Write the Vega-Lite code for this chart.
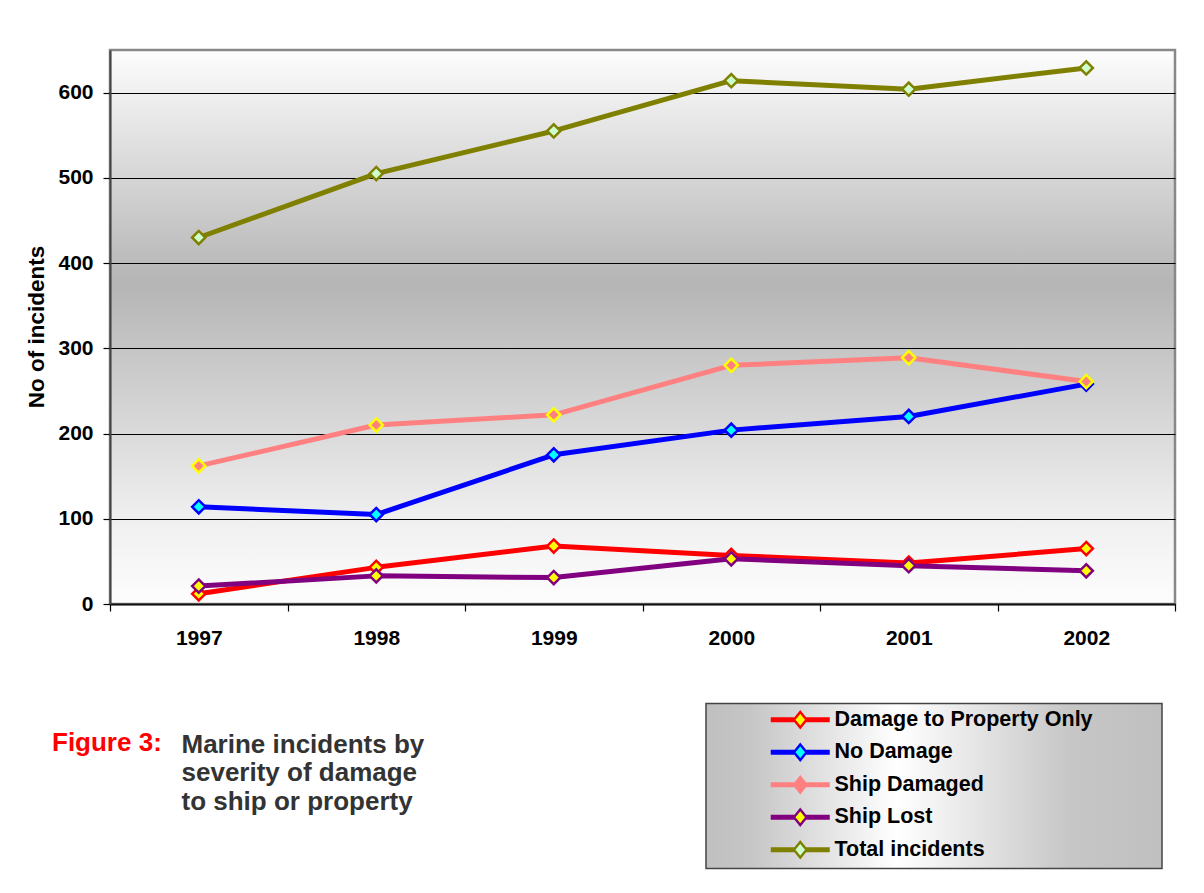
{
  "$schema": "https://vega.github.io/schema/vega-lite/v6.json",
  "width": 1065,
  "height": 554,
  "autosize": {"type": "none"},
  "padding": {"left": 110, "top": 50, "right": 29, "bottom": 289},
  "background": "#ffffff",
  "config": {
    "font": "Liberation Sans",
    "view": {
      "stroke": "#888888",
      "strokeWidth": 2.5,
      "fill": {
        "gradient": "linear",
        "x1": 0, "y1": 0, "x2": 0, "y2": 1,
        "stops": [
          {"offset": 0, "color": "#fdfdfd"},
          {"offset": 0.42, "color": "#b5b5b5"},
          {"offset": 0.85, "color": "#f0f0f0"},
          {"offset": 1, "color": "#fdfdfd"}
        ]
      }
    }
  },
  "title": {
    "text": "Figure 3:",
    "orient": "bottom",
    "anchor": "start",
    "frame": "group",
    "baseline": "top",
    "color": "#ff0000",
    "font": "Liberation Sans",
    "fontSize": 26,
    "fontWeight": "bold",
    "dx": -58,
    "offset": -139
  },
  "data": {
    "values": [
      {"year": "1997", "series": "Damage to Property Only", "incidents": 12},
      {"year": "1998", "series": "Damage to Property Only", "incidents": 43},
      {"year": "1999", "series": "Damage to Property Only", "incidents": 68},
      {"year": "2000", "series": "Damage to Property Only", "incidents": 57},
      {"year": "2001", "series": "Damage to Property Only", "incidents": 48},
      {"year": "2002", "series": "Damage to Property Only", "incidents": 65},
      {"year": "1997", "series": "No Damage", "incidents": 114},
      {"year": "1998", "series": "No Damage", "incidents": 105},
      {"year": "1999", "series": "No Damage", "incidents": 175},
      {"year": "2000", "series": "No Damage", "incidents": 204},
      {"year": "2001", "series": "No Damage", "incidents": 220},
      {"year": "2002", "series": "No Damage", "incidents": 258},
      {"year": "1997", "series": "Ship Damaged", "incidents": 162},
      {"year": "1998", "series": "Ship Damaged", "incidents": 210},
      {"year": "1999", "series": "Ship Damaged", "incidents": 222},
      {"year": "2000", "series": "Ship Damaged", "incidents": 280},
      {"year": "2001", "series": "Ship Damaged", "incidents": 289},
      {"year": "2002", "series": "Ship Damaged", "incidents": 261},
      {"year": "1997", "series": "Ship Lost", "incidents": 21},
      {"year": "1998", "series": "Ship Lost", "incidents": 33},
      {"year": "1999", "series": "Ship Lost", "incidents": 31},
      {"year": "2000", "series": "Ship Lost", "incidents": 53},
      {"year": "2001", "series": "Ship Lost", "incidents": 45},
      {"year": "2002", "series": "Ship Lost", "incidents": 39},
      {"year": "1997", "series": "Total incidents", "incidents": 430},
      {"year": "1998", "series": "Total incidents", "incidents": 505},
      {"year": "1999", "series": "Total incidents", "incidents": 555},
      {"year": "2000", "series": "Total incidents", "incidents": 614},
      {"year": "2001", "series": "Total incidents", "incidents": 604},
      {"year": "2002", "series": "Total incidents", "incidents": 629}
    ]
  },
  "encoding": {
    "x": {
      "field": "year",
      "type": "ordinal",
      "scale": {"type": "band", "paddingInner": 0, "paddingOuter": 0},
      "axis": {
        "title": ["Marine incidents by", "severity of damage", "to ship or property"],
        "titleX": 71,
        "titleY": 127,
        "titleAlign": "left",
        "titleBaseline": "top",
        "titleAngle": 0,
        "titleFont": "Liberation Sans",
        "titleFontSize": 26,
        "titleFontWeight": "bold",
        "titleColor": "#333333",
        "titleLineHeight": 28.5,
        "labelAngle": 0,
        "labelFont": "Liberation Sans",
        "labelFontSize": 21,
        "labelFontWeight": "bold",
        "labelColor": "#000000",
        "labelPadding": 16,
        "tickBand": "extent",
        "tickSize": 7,
        "tickColor": "#000000",
        "tickWidth": 1.2,
        "domainColor": "#111111",
        "domainWidth": 2,
        "grid": false
      }
    },
    "y": {
      "field": "incidents",
      "type": "quantitative",
      "scale": {"domain": [0, 650], "nice": false, "zero": true},
      "axis": {
        "title": "No of incidents",
        "values": [0, 100, 200, 300, 400, 500, 600],
        "titleX": -66.5,
        "titleY": 276.5,
        "titleAngle": 270,
        "titleAlign": "center",
        "titleBaseline": "alphabetic",
        "titleFont": "Liberation Sans",
        "titleFontSize": 22.5,
        "titleFontWeight": "bold",
        "titleColor": "#000000",
        "labelFont": "Liberation Sans",
        "labelFontSize": 21,
        "labelFontWeight": "bold",
        "labelColor": "#000000",
        "labelPadding": 10,
        "tickSize": 7,
        "tickColor": "#000000",
        "tickWidth": 1.2,
        "domainColor": "#444444",
        "domainWidth": 2,
        "grid": true,
        "gridColor": "#000000",
        "gridWidth": 1.1,
        "gridOpacity": 1
      }
    }
  },
  "layer": [
    {
      "mark": {"type": "line", "strokeWidth": 5, "strokeJoin": "round"},
      "encoding": {
        "stroke": {
          "field": "series",
          "type": "nominal",
          "scale": {
            "domain": ["Damage to Property Only", "No Damage", "Ship Damaged", "Ship Lost", "Total incidents"],
            "range": ["#ff0000", "#0000ff", "#ff8080", "#800080", "#808000"]
          },
          "legend": {
            "orient": "none",
            "legendX": 596,
            "legendY": 653.5,
            "direction": "vertical",
            "title": "\u00a0",
            "titleOrient": "right",
            "titlePadding": 64,
            "titleFontSize": 4,
            "symbolType": "M-5.9,-0.24H-1.2M1.2,-0.24H5.9M-5.9,0.24H-1.2M1.2,0.24H5.9M0,-1.56L1.26,0L0,1.56L-1.26,0Z",
            "symbolSize": 100,
            "symbolStrokeWidth": 2.4,
            "symbolOpacity": 1,
            "symbolFillColor": {"expr": "datum.value === 'No Damage' ? '#00ffff' : datum.value === 'Ship Damaged' ? '#ff8080' : datum.value === 'Total incidents' ? '#ccffcc' : '#ffff00'"},
            "symbolOffset": 78,
            "labelOffset": 23.5,
            "labelFont": "Liberation Sans",
            "labelFontSize": 21.5,
            "labelFontWeight": "bold",
            "labelColor": "#000000",
            "labelLimit": 400,
            "rowPadding": 6.5,
            "padding": 5.5,
            "fillColor": "#e0e0e0",
            "strokeColor": "#444444",
            "encode": {
              "legend": {
                "update": {
                  "fill": {"value": {
                    "gradient": "linear",
                    "x1": 0, "y1": 0, "x2": 1, "y2": 0,
                    "stops": [
                      {"offset": 0, "color": "#c0c0c0"},
                      {"offset": 0.1, "color": "#c6c6c6"},
                      {"offset": 0.42, "color": "#ffffff"},
                      {"offset": 0.8, "color": "#c6c6c6"},
                      {"offset": 1, "color": "#c0c0c0"}
                    ]
                  }},
                  "stroke": {"value": "#444444"},
                  "strokeWidth": {"value": 1.5}
                }
              }
            }
          }
        }
      }
    },
    {
      "mark": {"type": "point", "shape": "diamond", "size": 175, "filled": true, "strokeWidth": 2.5, "opacity": 1},
      "encoding": {
        "fill": {
          "field": "series",
          "type": "nominal",
          "scale": {
            "domain": ["Damage to Property Only", "No Damage", "Ship Damaged", "Ship Lost", "Total incidents"],
            "range": ["#ffff00", "#00ffff", "#ff8080", "#ffff00", "#ccffcc"]
          },
          "legend": null
        },
        "stroke": {
          "field": "series",
          "type": "nominal",
          "scale": {
            "domain": ["Damage to Property Only", "No Damage", "Ship Damaged", "Ship Lost", "Total incidents"],
            "range": ["#ff0000", "#0000ff", "#ffff00", "#800080", "#808000"]
          },
          "legend": null
        }
      }
    }
  ],
  "resolve": {"scale": {"stroke": "independent"}}
}
